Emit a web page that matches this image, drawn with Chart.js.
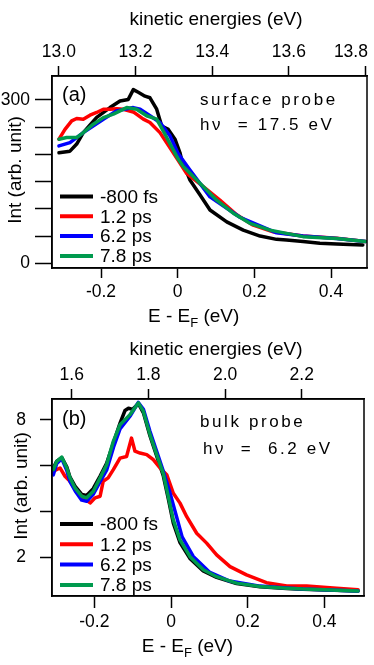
<!DOCTYPE html>
<html><head><meta charset="utf-8">
<script src="https://cdn.jsdelivr.net/npm/chart.js@4.4.0/dist/chart.umd.min.js"></script>
<style>
html,body{margin:0;padding:0;background:#fff;width:374px;height:665px;overflow:hidden}
canvas{position:absolute;left:0}
</style></head>
<body>
<canvas id="c1" width="374" height="332" style="top:0"></canvas>
<canvas id="c2" width="374" height="333" style="top:332px"></canvas>
<script>
// ---------- data ----------
const seriesLabels = ['-800 fs', '1.2 ps', '6.2 ps', '7.8 ps'];
const seriesColors = ['#000000', '#ff0000', '#0000ff', '#009a4e'];

// (a) surface probe, hv = 17.5 eV : E - EF (eV) vs intensity
const surfBlackE = [-0.3097,-0.281,-0.2635,-0.2463,-0.2113,-0.1766,-0.1505,-0.1289,-0.1158,-0.1028,-0.0853,-0.0723,-0.0548,-0.0417,-0.0245,-0.007,0.006,0.0104,0.032,0.058,0.0843,0.128,0.171,0.215,0.258,0.284,0.327,0.371,0.415,0.483];
const surfBlackI = [203,206,219,240,268,286,298,301,319,314,307,304,283,252,246,228,203,190,153,126,98,76,61,50,44,43,40,37,35.5,33.6];
const surfRedE = [-0.3097,-0.294,-0.2765,-0.2635,-0.2463,-0.2288,-0.2113,-0.194,-0.1766,-0.159,-0.142,-0.1158,-0.0897,-0.0723,-0.0462,-0.0115,0.0235,0.0668,0.110,0.154,0.197,0.249,0.327,0.415,0.4895];
const surfRedI = [228,246,261.6,266,264.7,272,277,283,283,284,283,278,264.7,258.5,240,203,165,141,116,89,70,58,50,46,40];
const surfBlueE = [-0.3097,-0.281,-0.2463,-0.194,-0.159,-0.1158,-0.098,-0.0723,-0.0462,-0.020,0.0016,0.032,0.0843,0.1625,0.258,0.327,0.415,0.4895];
const surfBlueI = [215.6,221.7,240,264.7,280,286,283,271,258.5,234,201,171.5,122,84.6,56,50,45.6,40];
const surfGreenE = [-0.3097,-0.2896,-0.2635,-0.2463,-0.220,-0.194,-0.168,-0.1505,-0.133,-0.107,-0.081,-0.0548,-0.0331,0.0016,0.0146,0.058,0.1017,0.145,0.1886,0.241,0.327,0.415,0.4895];
const surfGreenI = [228,231,231,240,255.5,267.6,274,280,286,283,271,264.7,237,191,177.6,147,116,92,73.5,61,49,45.6,40];

// (b) bulk probe, hv = 6.2 eV
const bulkBlackE = [-0.307,-0.298,-0.285,-0.272,-0.2635,-0.25,-0.233,-0.22,-0.203,-0.185,-0.168,-0.15,-0.133,-0.12,-0.111,-0.1,-0.085,-0.072,-0.055,-0.037,-0.02,-0.007,0.006,0.0235,0.05,0.084,0.119,0.171,0.232,0.302,0.344,0.488];
const bulkBlackI = [5.9,6.2,6.35,5.95,5.5,5.1,4.75,4.7,5.0,5.55,6.1,7.0,7.85,8.4,8.5,8.45,8.7,8.3,7.3,6.4,5.55,4.55,3.5,2.65,1.95,1.42,1.14,0.87,0.73,0.66,0.62,0.55];
const bulkRedE = [-0.307,-0.2896,-0.2766,-0.2635,-0.246,-0.229,-0.211,-0.198,-0.185,-0.177,-0.164,-0.1505,-0.133,-0.116,-0.103,-0.094,-0.081,-0.0634,-0.0462,-0.0287,-0.0112,0.006,0.0235,0.041,0.067,0.093,0.119,0.154,0.197,0.249,0.302,0.354,0.432,0.488];
const bulkRedI = [5.76,5.90,5.54,5.32,4.89,4.60,4.38,4.60,4.67,5.32,5.47,5.83,6.33,6.40,7.20,6.63,6.55,6.48,6.26,5.90,5.61,4.80,4.37,3.78,3.06,2.63,2.12,1.61,1.25,0.91,0.77,0.77,0.67,0.60];
const bulkBlueE = [-0.307,-0.298,-0.285,-0.272,-0.2635,-0.25,-0.233,-0.22,-0.203,-0.185,-0.168,-0.15,-0.133,-0.107,-0.0853,-0.072,-0.055,-0.037,-0.02,-0.004,0.0125,0.029,0.058,0.1,0.153,0.232,0.302,0.344,0.488];
const bulkBlueI = [5.6,6.1,6.3,5.8,5.3,4.9,4.5,4.45,4.75,5.3,5.8,6.8,7.6,8.15,8.75,8.45,7.5,6.6,5.75,4.9,3.9,2.9,2.05,1.37,0.98,0.76,0.68,0.63,0.55];
const bulkGreenE = [-0.307,-0.298,-0.285,-0.272,-0.2635,-0.2505,-0.233,-0.220,-0.2027,-0.185,-0.168,-0.1505,-0.133,-0.107,-0.0853,-0.0723,-0.0548,-0.0373,-0.020,-0.007,0.006,0.0235,0.0496,0.0843,0.119,0.171,0.232,0.302,0.344,0.488];
const bulkGreenI = [5.83,6.19,6.37,5.90,5.47,5.03,4.67,4.60,4.89,5.47,6.04,7.06,7.78,8.22,8.73,8.37,7.35,6.48,5.64,4.65,3.64,2.77,2.04,1.47,1.17,0.89,0.74,0.67,0.63,0.55];

// tick values and labels
const eTicks = [-0.2, 0, 0.2, 0.4];
const eTickLabels = ['-0.2', '0', '0.2', '0.4'];
const surfKinTicks = [13.0, 13.2, 13.4, 13.6, 13.8];
const surfKinLabels = ['13.0', '13.2', '13.4', '13.6', '13.8      '];
const bulkKinTicks = [1.6, 1.8, 2.0, 2.2];
const bulkKinLabels = ['1.6', '1.8', '2.0', '2.2'];
const surfYTicks = [0, 50, 100, 150, 200, 250, 300];
const surfYLabels = ['0', '', '', '', '', '', '300'];
const bulkYTicks = [2, 4, 6, 8];
const bulkYLabels = ['2', '', '', '8'];

// kinetic energy offsets (E_kin = E - EF + offset)
const surfKinOffset = 13.31;
const bulkKinOffset = 1.859;

// ---------- drawing ----------
const FONT = '"Liberation Sans", Arial, sans-serif';

function xy(xs, ys) { return xs.map((x, i) => ({ x: x, y: ys[i] })); }

function ds(i, xs, ys) {
  return {
    label: seriesLabels[i], data: xy(xs, ys), borderColor: seriesColors[i],
    backgroundColor: seriesColors[i], borderWidth: 3.5, pointRadius: 0,
    tension: 0, fill: false, order: 4 - i, xAxisID: 'x', yAxisID: 'y',
    borderJoinStyle: 'round', borderCapStyle: 'round'
  };
}

const deco = {
  id: 'deco',
  afterDraw(chart, args, o) {
    const ctx = chart.ctx, a = chart.chartArea;
    ctx.save();
    ctx.strokeStyle = '#000'; ctx.lineWidth = 1.5;
    ctx.strokeRect(a.left, a.top, a.width, a.height);
    ctx.fillStyle = '#000';
    ctx.textBaseline = 'alphabetic';
    o.texts.forEach(t => {
      ctx.font = t.font; ctx.textAlign = t.align || 'left';
      ctx.letterSpacing = t.ls || '0px';
      ctx.fillText(t.text, t.x, t.y);
    });
    ctx.letterSpacing = '0px';
    // x-axis title with subscript
    const xt = o.xTitle;
    ctx.textAlign = 'left';
    ctx.font = '19px ' + FONT;
    let x = xt.x;
    ctx.fillText('E - E', x, xt.y); x += ctx.measureText('E - E').width;
    ctx.font = '13px ' + FONT;
    ctx.fillText('F', x, xt.y + 5); x += ctx.measureText('F').width;
    ctx.font = '19px ' + FONT;
    ctx.fillText(' (eV)', x, xt.y);
    // y-axis title rotated
    const yt = o.yTitle;
    ctx.save();
    ctx.translate(yt.x, yt.y); ctx.rotate(-Math.PI / 2);
    ctx.textAlign = 'center'; ctx.font = '19px ' + FONT;
    ctx.fillText('Int (arb. unit)', 0, 0);
    ctx.restore();
    // legend
    const lg = o.legend;
    ctx.font = '19px ' + FONT; ctx.textBaseline = 'middle'; ctx.textAlign = 'left';
    seriesLabels.forEach((lab, i) => {
      const y = lg.y + i * lg.dy;
      ctx.strokeStyle = seriesColors[i]; ctx.lineWidth = 4; ctx.lineCap = 'butt';
      ctx.beginPath(); ctx.moveTo(lg.x0, y); ctx.lineTo(lg.x1, y); ctx.stroke();
      ctx.fillText(lab, lg.tx, y + 1);
    });
    ctx.restore();
  }
};

function makeChart(id, p) {
  const tickFont = { family: FONT, size: 17.5 };
  const fit = (size, key) => s => {
    s[key] = size; s.paddingLeft = 0; s.paddingRight = 0; s.paddingTop = 0; s.paddingBottom = 0;
  };
  const setTicks = vals => s => { s.ticks = vals.map(v => ({ value: v })); };
  const grid = len => ({ drawOnChartArea: false, drawTicks: true, tickLength: len, tickWidth: 1.5, color: '#000' });
  const border = { display: true, color: '#000', width: 1.5 };
  return new Chart(document.getElementById(id), {
    type: 'line',
    data: { datasets: p.datasets },
    options: {
      responsive: false, animation: false, devicePixelRatio: 1,
      layout: { padding: { left: 0, right: p.padRight, top: 0, bottom: 0 } },
      plugins: { legend: { display: false }, tooltip: { enabled: false }, deco: p.deco },
      scales: {
        x: {
          type: 'linear', position: 'bottom', min: p.xmin, max: p.xmax,
          afterBuildTicks: setTicks(eTicks), afterFit: fit(p.bottomH, 'height'),
          ticks: { font: tickFont, color: '#000', padding: 4, maxRotation: 0, autoSkip: false,
            callback: (v, i) => eTickLabels[i] },
          grid: grid(p.bTick), border: border
        },
        x2: {
          type: 'linear', position: 'top', min: p.xmin + p.kinOff, max: p.xmax + p.kinOff,
          afterBuildTicks: setTicks(p.kinTicks), afterFit: fit(p.topH, 'height'),
          ticks: { font: tickFont, color: '#000', padding: 3, maxRotation: 0, autoSkip: false,
            callback: (v, i) => p.kinLabels[i] },
          grid: grid(10), border: border
        },
        y: {
          type: 'linear', position: 'left', min: p.ymin, max: p.ymax,
          afterBuildTicks: setTicks(p.yTicks), afterFit: fit(52, 'width'),
          ticks: { font: tickFont, color: '#000', padding: p.yPad, autoSkip: false,
            callback: (v, i) => p.yLabels[i] },
          grid: grid(p.yTick), border: border
        }
      }
    },
    plugins: [deco]
  });
}

makeChart('c1', {
  datasets: [ds(0, surfBlackE, surfBlackI), ds(1, surfRedE, surfRedI), ds(2, surfBlueE, surfBlueI), ds(3, surfGreenE, surfGreenI)],
  xmin: -0.3279, xmax: 0.4939, kinOff: surfKinOffset, kinTicks: surfKinTicks, kinLabels: surfKinLabels,
  ymin: -8.6, ymax: 344, yTicks: surfYTicks, yLabels: surfYLabels,
  padRight: 7, topH: 76, bottomH: 64, bTick: 10, yTick: 17, yPad: 5,
  deco: {
    texts: [
      { text: 'kinetic energies (eV)', x: 216, y: 25, align: 'center', font: '19px ' + FONT },
      { text: '(a)', x: 62, y: 101, font: '20px ' + FONT },
      { text: 'surface probe', x: 200, y: 105, font: '17px ' + FONT, ls: '2.6px' },
      { text: 'h\u03bd  = 17.5 eV', x: 200, y: 130, font: '17px ' + FONT, ls: '2.6px' }
    ],
    xTitle: { x: 148, y: 321.5 },
    yTitle: { x: 21, y: 170 },
    legend: { x0: 60, x1: 93, tx: 100, y: 196.5, dy: 19.8 }
  }
});

makeChart('c2', {
  datasets: [ds(0, bulkBlackE, bulkBlackI), ds(1, bulkRedE, bulkRedI), ds(2, bulkBlueE, bulkBlueI), ds(3, bulkGreenE, bulkGreenI)],
  xmin: -0.3105, xmax: 0.5035, kinOff: bulkKinOffset, kinTicks: bulkKinTicks, kinLabels: bulkKinLabels,
  ymin: 0.33, ymax: 8.9, yTicks: bulkYTicks, yLabels: bulkYLabels,
  padRight: 10, topH: 67, bottomH: 69, bTick: 12, yTick: 12, yPad: 14,
  deco: {
    texts: [
      { text: 'kinetic energies (eV)', x: 216, y: 23, align: 'center', font: '19px ' + FONT },
      { text: '(b)', x: 62, y: 93, font: '20px ' + FONT },
      { text: 'bulk probe', x: 200, y: 94.7, font: '17px ' + FONT, ls: '2.6px' },
      { text: 'h\u03bd  =  6.2 eV', x: 203, y: 122, font: '17px ' + FONT, ls: '2.6px' }
    ],
    xTitle: { x: 141.7, y: 319.7 },
    yTitle: { x: 26.7, y: 154 },
    legend: { x0: 60, x1: 93, tx: 100, y: 192, dy: 20.3 }
  }
});
</script>
</body></html>
